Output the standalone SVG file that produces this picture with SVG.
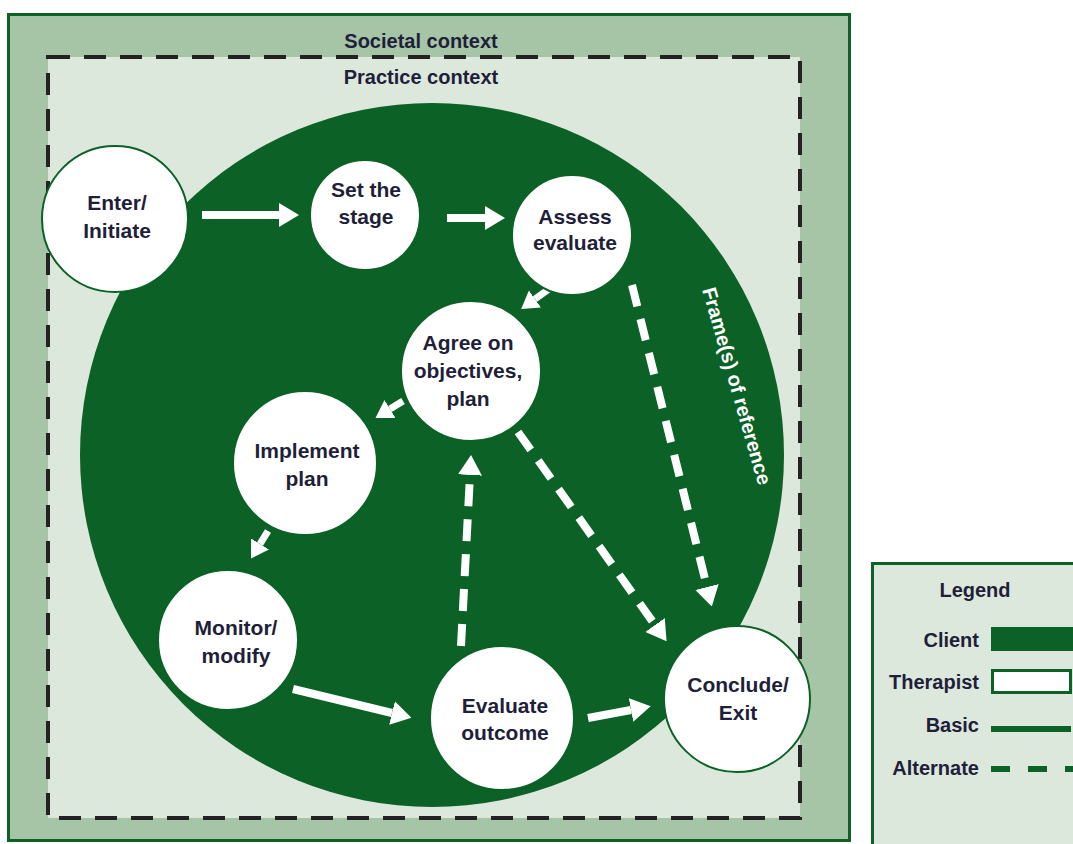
<svg xmlns="http://www.w3.org/2000/svg" width="1073" height="844" viewBox="0 0 1073 844">
  <defs>
    <style>
      .ctx { fill: #1f1f3a; font-family: "Liberation Sans", Arial, sans-serif; font-weight: bold; font-size: 20px; text-anchor: middle; }
      .lbl { fill: #1f1f3a; font-family: "Liberation Sans", Arial, sans-serif; font-weight: bold; font-size: 21px; text-anchor: middle; }
      .leg { fill: #1f1f3a; font-family: "Liberation Sans", Arial, sans-serif; font-weight: bold; font-size: 20px; text-anchor: end; }
      .node { fill: #ffffff; stroke: #0b6126; stroke-width: 2; }
      .basic { stroke: #ffffff; stroke-width: 8; fill: none; }
      .small { stroke: #ffffff; stroke-width: 7; fill: none; }
      .alt { stroke: #ffffff; stroke-width: 8; fill: none; stroke-dasharray: 22 13; }
    </style>
    <marker id="head" markerUnits="userSpaceOnUse" viewBox="0 0 20 24" refX="0" refY="12" markerWidth="20" markerHeight="24" orient="auto">
      <path d="M0,0 L20,12 L0,24 Z" fill="#ffffff"/>
    </marker>
    <marker id="headS" markerUnits="userSpaceOnUse" viewBox="0 0 17 21" refX="0" refY="10.5" markerWidth="17" markerHeight="21" orient="auto">
      <path d="M0,0 L17,10.5 L0,21 Z" fill="#ffffff"/>
    </marker>
  </defs>

  <rect width="1073" height="844" fill="#ffffff"/>

  <!-- societal context frame -->
  <g id="societal-context">
    <rect x="8.5" y="14.5" width="841" height="826" fill="#a6c4a6" stroke="#0b6126" stroke-width="3"/>
    <text class="ctx" x="421" y="48">Societal context</text>
  </g>

  <!-- practice context frame -->
  <g id="practice-context">
    <rect x="48" y="57" width="752" height="761" fill="#dde8dd" stroke="#222222" stroke-width="4" stroke-dasharray="22 14"/>
    <text class="ctx" x="421" y="84">Practice context</text>
  </g>

  <!-- client sphere -->
  <g id="frames-of-reference">
    <circle cx="432" cy="455" r="352" fill="#0b6126"/>
    <text x="0" y="7" transform="translate(737 386) rotate(74)" fill="#ffffff" font-family="'Liberation Sans', Arial, sans-serif" font-weight="bold" font-size="20" text-anchor="middle">Frame(s) of reference</text>
  </g>

  <!-- connectors -->
  <g id="connectors">
    <line class="basic" x1="202" y1="215" x2="279" y2="215" marker-end="url(#head)"/>
    <line class="basic" x1="447" y1="218" x2="485" y2="218" marker-end="url(#head)"/>
    <line class="small" x1="549" y1="289" x2="535" y2="299" marker-end="url(#headS)"/>
    <line class="small" x1="403" y1="401" x2="390" y2="409" marker-end="url(#headS)"/>
    <line class="small" x1="268" y1="531" x2="260" y2="544" marker-end="url(#headS)"/>
    <line class="basic" x1="293" y1="689" x2="392" y2="713" marker-end="url(#head)"/>
    <line class="basic" x1="588" y1="718" x2="631" y2="710" marker-end="url(#head)"/>
    <line class="alt" x1="632" y1="285" x2="707" y2="587" marker-end="url(#head)"/>
    <line class="alt" x1="518" y1="432" x2="655" y2="625" marker-end="url(#head)"/>
    <line class="alt" x1="461" y1="646" x2="470" y2="475" marker-end="url(#head)"/>
  </g>

  <g id="enter-initiate">
    <circle class="node" cx="115" cy="219" r="73"/>
    <text class="lbl" x="117" y="210">Enter/</text>
    <text class="lbl" x="117" y="238">Initiate</text>
  </g>
  <g id="set-the-stage">
    <circle class="node" cx="365" cy="215" r="55"/>
    <text class="lbl" x="366" y="197">Set the</text>
    <text class="lbl" x="366" y="224">stage</text>
  </g>
  <g id="assess-evaluate">
    <circle class="node" cx="572" cy="235" r="60"/>
    <text class="lbl" x="575" y="224">Assess</text>
    <text class="lbl" x="575" y="250">evaluate</text>
  </g>
  <g id="agree-objectives">
    <circle class="node" cx="471" cy="371" r="70"/>
    <text class="lbl" x="468" y="350">Agree on</text>
    <text class="lbl" x="468" y="378">objectives,</text>
    <text class="lbl" x="468" y="406">plan</text>
  </g>
  <g id="implement-plan">
    <circle class="node" cx="305" cy="463" r="72"/>
    <text class="lbl" x="307" y="458">Implement</text>
    <text class="lbl" x="307" y="486">plan</text>
  </g>
  <g id="monitor-modify">
    <circle class="node" cx="228" cy="640" r="70"/>
    <text class="lbl" x="236" y="635">Monitor/</text>
    <text class="lbl" x="236" y="663">modify</text>
  </g>
  <g id="evaluate-outcome">
    <circle class="node" cx="502" cy="718" r="72"/>
    <text class="lbl" x="505" y="713">Evaluate</text>
    <text class="lbl" x="505" y="740">outcome</text>
  </g>
  <g id="conclude-exit">
    <circle class="node" cx="737" cy="699" r="73"/>
    <text class="lbl" x="738" y="692">Conclude/</text>
    <text class="lbl" x="738" y="720">Exit</text>
  </g>

  <!-- legend -->
  <g id="legend">
    <rect x="872.5" y="563.5" width="210" height="300" fill="#dde8dd" stroke="#0b6126" stroke-width="3"/>
    <text class="ctx" x="975" y="597">Legend</text>
    <text class="leg" x="979" y="647">Client</text>
    <rect x="991" y="627" width="90" height="24" fill="#0b6126"/>
    <text class="leg" x="979" y="689">Therapist</text>
    <rect x="992.5" y="670.5" width="78" height="22" fill="#ffffff" stroke="#0b6126" stroke-width="3"/>
    <text class="leg" x="979" y="732">Basic</text>
    <line x1="991" y1="729" x2="1071" y2="729" stroke="#0b6126" stroke-width="6"/>
    <text class="leg" x="979" y="775">Alternate</text>
    <line x1="991" y1="769" x2="1073" y2="769" stroke="#0b6126" stroke-width="6" stroke-dasharray="19 18"/>
  </g>
</svg>
